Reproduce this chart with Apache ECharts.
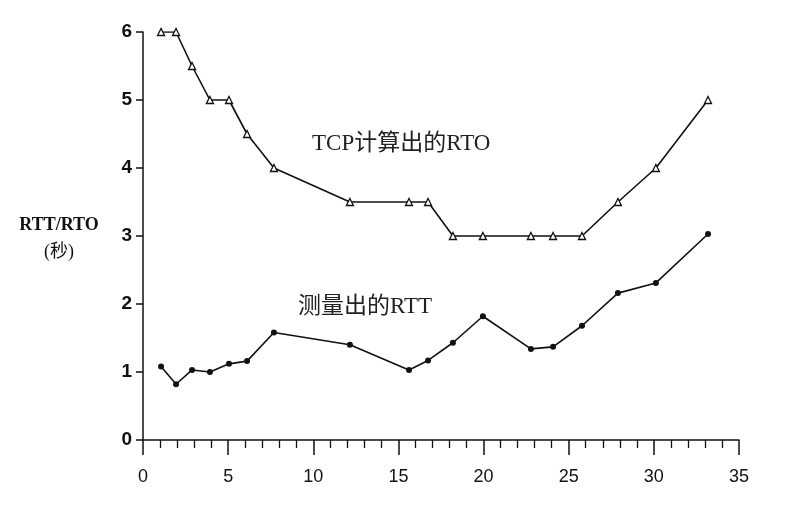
<!DOCTYPE html>
<html><head><meta charset="utf-8">
<script src="https://cdn.jsdelivr.net/npm/echarts@6/dist/echarts.min.js"></script>
<style>html,body{margin:0;padding:0;background:#fff}#c{width:795px;height:512px}</style>
</head><body><div id="c"></div>
<script>
const xValues = [1.06, 1.94, 2.88, 3.93, 5.05, 6.11, 7.69, 12.15, 15.62, 16.74, 18.2, 19.96, 22.78, 24.08, 25.78, 27.89, 30.12, 33.18];
const rtoValues = [6, 6, 5.5, 5, 5, 4.5, 4, 3.5, 3.5, 3.5, 3, 3, 3, 3, 3, 3.5, 4, 5];
const rttValues = [1.08, 0.82, 1.03, 1.0, 1.12, 1.16, 1.58, 1.40, 1.03, 1.17, 1.43, 1.82, 1.34, 1.37, 1.68, 2.16, 2.31, 3.03];
const rtoLabel = 'TCP计算出的RTO';
const rttLabel = '测量出的RTT';
const yNameTop = 'RTT/RTO';
const yNameUnit = '(秒)';

const chart = echarts.init(document.getElementById('c'), null, {renderer: 'canvas'});
const serif = '"Liberation Serif","DejaVu Serif","Noto Sans CJK SC",serif';
const sans = '"Liberation Sans","DejaVu Sans",sans-serif';
chart.setOption({
  animation: false,
  backgroundColor: '#fff',
  grid: {left: 143, right: 56, top: 32, bottom: 72},
  xAxis: {
    type: 'value', min: 0, max: 35, interval: 5,
    axisLine: {lineStyle: {color: '#111', width: 1.5}},
    axisTick: {show: true, length: 15, lineStyle: {color: '#111', width: 1.5}},
    minorTick: {show: true, splitNumber: 5, length: 8, lineStyle: {color: '#111', width: 1.3}},
    splitLine: {show: false},
    axisLabel: {color: '#111', fontSize: 18, fontFamily: sans, margin: 28}
  },
  yAxis: {
    type: 'value', min: 0, max: 6, interval: 1,
    name: '{a|' + yNameTop + '}\n{b|' + yNameUnit + '}', nameLocation: 'middle', nameRotate: 0, nameGap: 84,
    nameTextStyle: {
      color: '#111', align: 'center', padding: [6, 0, 0, 0],
      rich: {
        a: {fontSize: 18, fontWeight: 'bold', fontFamily: serif, color: '#111', lineHeight: 27, align: 'center'},
        b: {fontSize: 18, fontFamily: serif, color: '#111', lineHeight: 27, align: 'center'}
      }
    },
    axisLine: {show: true, lineStyle: {color: '#111', width: 1.5}},
    axisTick: {show: true, length: 7, lineStyle: {color: '#111', width: 1.5}},
    splitLine: {show: false},
    axisLabel: {color: '#111', fontSize: 19, fontWeight: 'bold', fontFamily: sans, margin: 11}
  },
  series: [
    {
      type: 'line', data: xValues.map((x, i) => [x, rtoValues[i]]),
      symbol: 'triangle', symbolSize: 7,
      itemStyle: {color: '#fff', borderColor: '#111', borderWidth: 1.3},
      lineStyle: {color: '#111', width: 1.6},
      z: 3
    },
    {
      type: 'line', data: xValues.map((x, i) => [x, rttValues[i]]),
      symbol: 'circle', symbolSize: 6,
      itemStyle: {color: '#111', borderColor: '#111', borderWidth: 0},
      lineStyle: {color: '#111', width: 1.6},
      z: 3
    }
  ],
  graphic: [
    {type: 'text', left: 312, top: 132, style: {text: rtoLabel, fill: '#222', font: '23px ' + serif}},
    {type: 'text', left: 298, top: 295, style: {text: rttLabel, fill: '#222', font: '23px ' + serif}}
  ]
});
</script></body></html>
